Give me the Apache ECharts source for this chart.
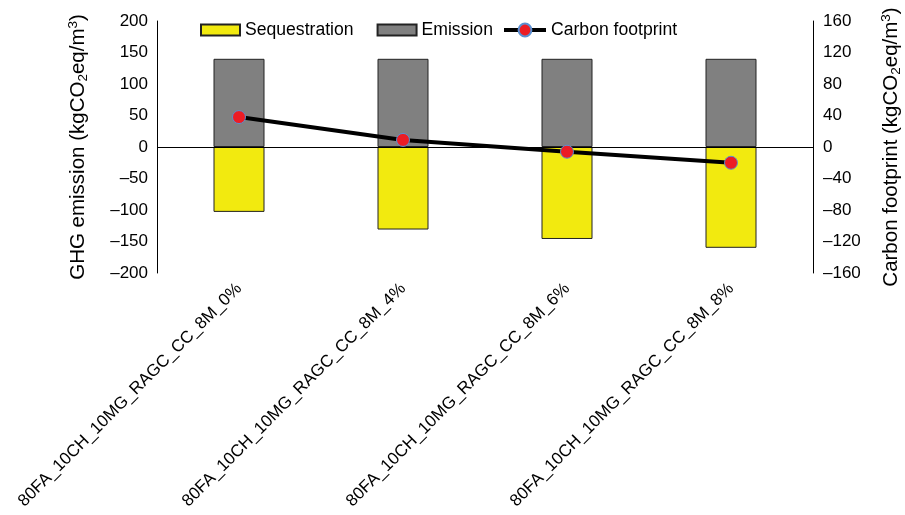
<!DOCTYPE html>
<html>
<head>
<meta charset="utf-8">
<script src="https://cdn.jsdelivr.net/npm/echarts@6/dist/echarts.min.js"></script>
<style>html,body{margin:0;padding:0;background:#fff}#c{width:905px;height:515px}</style>
</head>
<body>
<div id="c"></div>
<script>
const categories = ['80FA_10CH_10MG_RAGC_CC_8M_0%','80FA_10CH_10MG_RAGC_CC_8M_4%','80FA_10CH_10MG_RAGC_CC_8M_6%','80FA_10CH_10MG_RAGC_CC_8M_8%'];
const sequestration = [-103, -131, -146, -160];
const emission = [140, 140, 140, 140];
const carbonFootprint = [38, 9, -6, -20];

const FONT = '"Liberation Sans", Arial, sans-serif';
const fmt = v => String(v).replace('-', '\u2013');
const nameRich = {
  t: {fontSize: 20.5, lineHeight: 24, fontFamily: FONT, color: '#000'},
  s: {fontSize: 13.5, lineHeight: 12, verticalAlign: 'bottom', fontFamily: FONT, color: '#000'},
  p: {fontSize: 13.5, lineHeight: 12, verticalAlign: 'top', fontFamily: FONT, color: '#000'}
};

const chart = echarts.init(document.getElementById('c'));
chart.setOption({
  animation: false,
  textStyle: {fontFamily: FONT},
  grid: {left: 157, right: 92, top: 21, bottom: 242, outerBoundsMode: 'none', containLabel: false},
  legend: [
    {
      left: 195, top: 16, itemWidth: 39, itemHeight: 11, itemGap: 23, icon: 'rect',
      textStyle: {fontSize: 17.6, color: '#000', fontFamily: FONT},
      data: ['Sequestration', 'Emission']
    },
    {
      left: 497, top: 16, itemWidth: 42, itemHeight: 16, itemGap: 10,
      lineStyle: {width: 4, color: '#000'},
      textStyle: {fontSize: 17.6, color: '#000', fontFamily: FONT},
      data: ['Carbon footprint']
    }
  ],
  xAxis: {
    type: 'category', data: categories,
    axisLine: {show: false, onZero: false}, axisTick: {show: false},
    axisLabel: {rotate: 45, fontSize: 17, color: '#000', margin: 13, interval: 0}
  },
  yAxis: [
    {
      type: 'value', min: -200, max: 200, interval: 50, position: 'left',
      axisLine: {show: true, lineStyle: {color: '#000', width: 1}}, axisTick: {show: false},
      splitLine: {show: false},
      axisLabel: {fontSize: 17, color: '#000', margin: 9, formatter: fmt},
      name: '{t|GHG emission (kgCO}{s|2}{t|eq/m}{p|3}{t|)}',
      nameLocation: 'middle', nameGap: 67, nameRotate: 90,
      nameTextStyle: {rich: nameRich}
    },
    {
      type: 'value', min: -160, max: 160, interval: 40, position: 'right',
      axisLine: {show: true, lineStyle: {color: '#000', width: 1}}, axisTick: {show: false},
      splitLine: {show: false},
      axisLabel: {fontSize: 17, color: '#000', margin: 10, formatter: fmt},
      name: '{t|Carbon footprint (kgCO}{s|2}{t|eq/m}{p|3}{t|)}',
      nameLocation: 'middle', nameGap: 66, nameRotate: 90,
      nameTextStyle: {rich: nameRich}
    }
  ],
  series: [
    {
      name: 'Sequestration', type: 'bar', stack: 'g', data: sequestration, barWidth: 51,
      itemStyle: {color: '#f2ea0f', borderColor: '#222', borderWidth: 1},
      markLine: {
        silent: true, symbol: 'none', label: {show: false},
        lineStyle: {color: '#000', width: 1, type: 'solid'},
        data: [{yAxis: 0}]
      }
    },
    {
      name: 'Emission', type: 'bar', stack: 'g', data: emission, barWidth: 51,
      itemStyle: {color: '#808080', borderColor: '#222', borderWidth: 1}
    },
    {
      name: 'Carbon footprint', type: 'line', yAxisIndex: 1, data: carbonFootprint,
      symbol: 'circle', symbolSize: 13, z: 5,
      lineStyle: {color: '#000', width: 4},
      itemStyle: {color: '#ec1c24', borderColor: '#5b8fd0', borderWidth: 1}
    }
  ]
});
</script>
</body>
</html>
